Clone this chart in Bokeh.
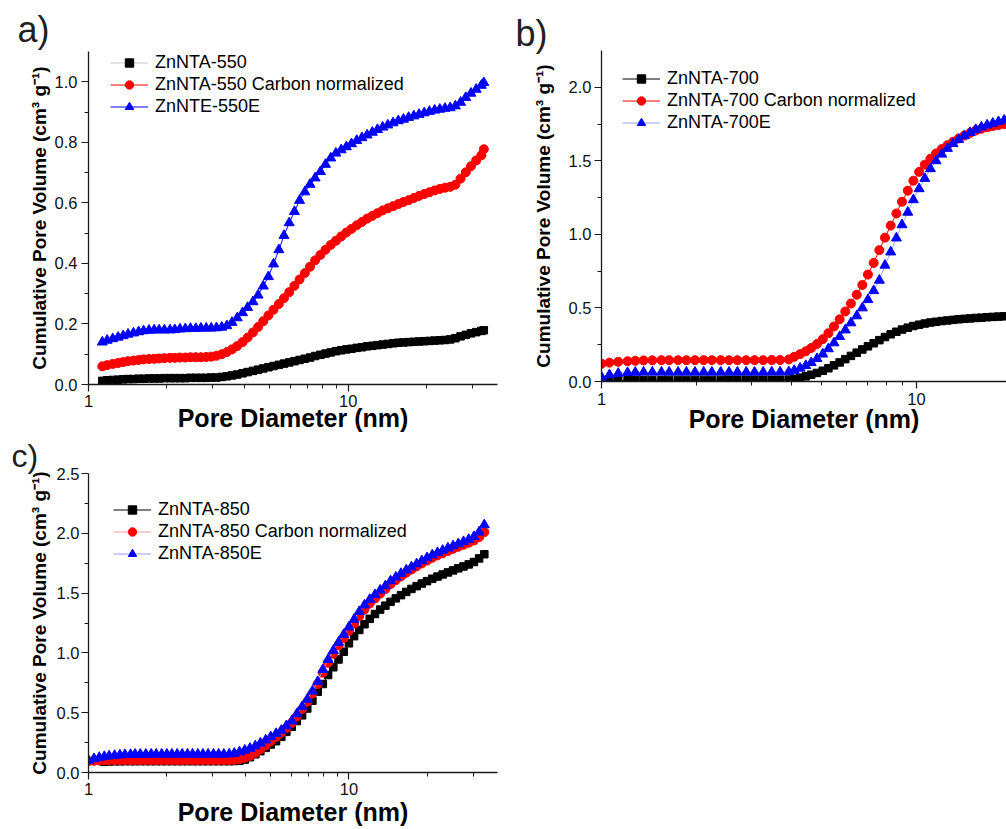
from bokeh.plotting import figure
from bokeh.layouts import row, column
from bokeh.models import Range1d, FixedTicker, NumeralTickFormatter, Legend, LegendItem, Title
from bokeh.embed import file_html
from bokeh.resources import INLINE

FONT = "Liberation Sans"

# ---------------- data: panel a) ----------------
X_A = [1.13, 1.18, 1.24, 1.30, 1.36, 1.42, 1.49, 1.56, 1.63, 1.71,
       1.79, 1.87, 1.96, 2.06, 2.15, 2.25, 2.36, 2.47, 2.59, 2.71,
       2.84, 2.97, 3.11, 3.26, 3.41, 3.57, 3.74, 3.92, 4.10, 4.30,
       4.50, 4.71, 4.93, 5.16, 5.41, 5.66, 5.93, 6.21, 6.50, 6.81,
       7.13, 7.46, 7.82, 8.18, 8.57, 8.97, 9.40, 9.84, 10.30, 10.79,
       11.30, 11.83, 12.39, 12.97, 13.58, 14.22, 14.89, 15.60, 16.33, 17.10,
       17.91, 18.75, 19.63, 20.56, 21.53, 22.54, 23.60, 24.72, 25.88, 27.10,
       28.38, 29.72, 31.12, 32.58, 33.30]
BLACK_A = [0.012, 0.014, 0.015, 0.016, 0.017, 0.018, 0.018, 0.019, 0.019, 0.020,
           0.020, 0.020, 0.021, 0.021, 0.021, 0.021, 0.021, 0.022, 0.022, 0.022,
           0.022, 0.023, 0.023, 0.025, 0.027, 0.030, 0.033, 0.037, 0.041, 0.045,
           0.049, 0.053, 0.057, 0.061, 0.065, 0.069, 0.073, 0.077, 0.081, 0.085,
           0.089, 0.094, 0.098, 0.102, 0.106, 0.110, 0.113, 0.116, 0.118, 0.121,
           0.123, 0.126, 0.128, 0.130, 0.132, 0.134, 0.136, 0.138, 0.139, 0.140,
           0.141, 0.142, 0.143, 0.144, 0.145, 0.146, 0.147, 0.149, 0.153, 0.159,
           0.164, 0.169, 0.173, 0.177, 0.179]
RED_A = [0.060, 0.064, 0.068, 0.071, 0.074, 0.077, 0.079, 0.081, 0.083, 0.084,
         0.085, 0.086, 0.087, 0.088, 0.088, 0.089, 0.089, 0.090, 0.090, 0.090,
         0.091, 0.092, 0.095, 0.100, 0.107, 0.116, 0.127, 0.140, 0.155, 0.172,
         0.190, 0.209, 0.228, 0.247, 0.266, 0.285, 0.305, 0.326, 0.347, 0.368,
         0.389, 0.410, 0.428, 0.445, 0.461, 0.475, 0.489, 0.502, 0.514, 0.526,
         0.537, 0.548, 0.557, 0.566, 0.575, 0.582, 0.589, 0.596, 0.603, 0.609,
         0.616, 0.623, 0.629, 0.635, 0.641, 0.646, 0.650, 0.653, 0.660, 0.680,
         0.701, 0.721, 0.740, 0.757, 0.777]
BLUE_A = [0.140, 0.146, 0.151, 0.156, 0.161, 0.166, 0.170, 0.174, 0.177, 0.179,
          0.180, 0.180, 0.180, 0.180, 0.181, 0.183, 0.184, 0.185, 0.185, 0.186,
          0.186, 0.186, 0.187, 0.189, 0.194, 0.205, 0.220, 0.237, 0.254, 0.273,
          0.295, 0.325, 0.356, 0.398, 0.445, 0.492, 0.534, 0.571, 0.608, 0.636,
          0.661, 0.682, 0.703, 0.727, 0.748, 0.764, 0.775, 0.785, 0.795, 0.806,
          0.815, 0.824, 0.833, 0.842, 0.850, 0.857, 0.864, 0.871, 0.876, 0.882,
          0.887, 0.892, 0.897, 0.902, 0.906, 0.909, 0.912, 0.914, 0.920, 0.932,
          0.948, 0.962, 0.975, 0.988, 0.997]
LABELS_A = ["ZnNTA-550", "ZnNTA-550 Carbon normalized", "ZnNTE-550E"]

# ---------------- data: panel b) ----------------
X_B = [1.00, 1.06, 1.13, 1.21, 1.28, 1.36, 1.45, 1.55, 1.64, 1.75,
       1.86, 1.98, 2.11, 2.24, 2.39, 2.54, 2.70, 2.88, 3.06, 3.26,
       3.47, 3.69, 3.93, 4.09, 4.27, 4.45, 4.63, 4.83, 5.04, 5.25,
       5.47, 5.70, 5.94, 6.19, 6.46, 6.73, 7.01, 7.31, 7.62, 7.94,
       8.28, 8.63, 8.99, 9.38, 9.77, 10.19, 10.62, 11.07, 11.53, 12.02,
       12.53, 13.06, 13.61, 14.19, 14.79, 15.42, 16.07, 16.75, 17.46, 18.20,
       18.97, 19.77]
BLACK_B = [0.000, 0.004, 0.006, 0.008, 0.009, 0.010, 0.010, 0.010, 0.011, 0.011,
           0.011, 0.011, 0.011, 0.011, 0.011, 0.012, 0.012, 0.012, 0.012, 0.012,
           0.012, 0.012, 0.013, 0.018, 0.026, 0.035, 0.046, 0.058, 0.073, 0.090,
           0.110, 0.130, 0.152, 0.174, 0.196, 0.218, 0.239, 0.260, 0.281, 0.302,
           0.321, 0.338, 0.353, 0.366, 0.377, 0.386, 0.394, 0.401, 0.406, 0.411,
           0.415, 0.419, 0.423, 0.426, 0.429, 0.432, 0.434, 0.437, 0.439, 0.441,
           0.443, 0.445]
RED_B = [0.120, 0.128, 0.134, 0.138, 0.141, 0.143, 0.144, 0.145, 0.145, 0.145,
         0.145, 0.145, 0.145, 0.145, 0.145, 0.145, 0.145, 0.145, 0.145, 0.145,
         0.146, 0.146, 0.150, 0.168, 0.186, 0.205, 0.228, 0.255, 0.288, 0.328,
         0.374, 0.423, 0.476, 0.530, 0.590, 0.656, 0.727, 0.806, 0.893, 0.978,
         1.060, 1.142, 1.222, 1.297, 1.365, 1.425, 1.474, 1.515, 1.550, 1.580,
         1.606, 1.630, 1.652, 1.672, 1.690, 1.706, 1.718, 1.728, 1.736, 1.743,
         1.750, 1.756]
BLUE_B = [0.030, 0.045, 0.055, 0.060, 0.062, 0.063, 0.063, 0.063, 0.063, 0.063,
          0.063, 0.063, 0.063, 0.063, 0.063, 0.063, 0.063, 0.063, 0.063, 0.063,
          0.064, 0.064, 0.066, 0.075, 0.090, 0.108, 0.128, 0.155, 0.186, 0.222,
          0.262, 0.305, 0.350, 0.398, 0.446, 0.500, 0.556, 0.617, 0.688, 0.790,
          0.880, 0.975, 1.065, 1.150, 1.235, 1.310, 1.380, 1.446, 1.500, 1.545,
          1.584, 1.617, 1.645, 1.670, 1.692, 1.712, 1.729, 1.743, 1.755, 1.766,
          1.776, 1.785]
LABELS_B = ["ZnNTA-700", "ZnNTA-700 Carbon normalized", "ZnNTA-700E"]

# ---------------- data: panel c) ----------------
X_C = [1.00, 1.05, 1.10, 1.15, 1.20, 1.26, 1.32, 1.38, 1.45, 1.51,
       1.58, 1.66, 1.74, 1.82, 1.91, 2.00, 2.09, 2.19, 2.29, 2.40,
       2.51, 2.63, 2.75, 2.88, 3.02, 3.16, 3.31, 3.47, 3.63, 3.80,
       3.98, 4.17, 4.37, 4.57, 4.79, 5.01, 5.25, 5.50, 5.75, 6.03,
       6.31, 6.61, 6.92, 7.24, 7.59, 7.94, 8.32, 8.71, 9.12, 9.55,
       10.00, 10.47, 10.96, 11.48, 12.02, 12.59, 13.18, 13.80, 14.45, 15.14,
       15.85, 16.60, 17.38, 18.20, 19.05, 19.95, 20.89, 21.88, 22.91, 23.99,
       25.12, 26.30, 27.54, 28.84, 30.20, 31.62, 33.11]
BLACK_C = [0.090, 0.092, 0.094, 0.094, 0.095, 0.095, 0.095,
           0.095, 0.095, 0.095, 0.095, 0.095, 0.095, 0.095, 0.095, 0.095, 0.095,
           0.095, 0.095, 0.095, 0.095, 0.095, 0.095, 0.095, 0.095, 0.096, 0.098,
           0.108, 0.128, 0.152, 0.178, 0.206, 0.234, 0.262, 0.298, 0.340, 0.382,
           0.430, 0.478, 0.535, 0.600, 0.675, 0.740, 0.815, 0.880, 0.945, 1.010,
           1.080, 1.140, 1.192, 1.240, 1.285, 1.325, 1.362, 1.395, 1.427, 1.456,
           1.483, 1.510, 1.535, 1.558, 1.580, 1.600, 1.620, 1.638, 1.656, 1.673,
           1.690, 1.707, 1.723, 1.740, 1.760, 1.790, 1.825]
RED_C = [0.095, 0.098, 0.100, 0.102, 0.102, 0.103, 0.103, 0.103, 0.103, 0.103,
         0.103, 0.103, 0.103, 0.103, 0.103, 0.103, 0.103, 0.103, 0.103, 0.103,
         0.103, 0.103, 0.103, 0.103, 0.103, 0.103, 0.104, 0.104, 0.106, 0.112,
         0.122, 0.140, 0.165, 0.195, 0.228, 0.262, 0.296, 0.332, 0.372, 0.414,
         0.470, 0.530, 0.592, 0.660, 0.740, 0.835, 0.918, 0.993, 1.062, 1.125,
         1.185, 1.245, 1.308, 1.363, 1.412, 1.455, 1.495, 1.533, 1.575, 1.608,
         1.640, 1.670, 1.697, 1.723, 1.748, 1.772, 1.795, 1.815, 1.834, 1.852,
         1.870, 1.887, 1.904, 1.921, 1.940, 1.968, 2.010]
BLUE_C = [0.100, 0.115, 0.125, 0.133, 0.138, 0.142, 0.146, 0.149, 0.150, 0.152,
          0.152, 0.152, 0.153, 0.153, 0.153, 0.153, 0.153, 0.153, 0.153, 0.153,
          0.153, 0.153, 0.153, 0.153, 0.153, 0.153, 0.153, 0.154, 0.160, 0.172,
          0.186, 0.202, 0.222, 0.245, 0.271, 0.298, 0.325, 0.352, 0.390, 0.430,
          0.490, 0.550, 0.612, 0.680, 0.760, 0.860, 0.945, 1.020, 1.088, 1.153,
          1.216, 1.280, 1.345, 1.400, 1.447, 1.486, 1.524, 1.560, 1.602, 1.633,
          1.664, 1.692, 1.718, 1.744, 1.770, 1.795, 1.818, 1.838, 1.857, 1.876,
          1.894, 1.912, 1.930, 1.948, 1.972, 2.010, 2.070]
LABELS_C = ["ZnNTA-850", "ZnNTA-850 Carbon normalized", "ZnNTA-850E"]

X_MINOR_FULL = [2, 3, 4, 5, 6, 7, 8, 9, 20, 30]
X_MINOR_B = [2, 3, 4, 5, 6, 7, 8, 9]
Y_TICKS_A = [0.0, 0.2, 0.4, 0.6, 0.8, 1.0]
Y_MINOR_A = [0.1, 0.3, 0.5, 0.7, 0.9]
Y_TICKS_B = [0.0, 0.5, 1.0, 1.5, 2.0]
Y_MINOR_B = [0.25, 0.75, 1.25, 1.75]
Y_TICKS_C = [0.0, 0.5, 1.0, 1.5, 2.0, 2.5]
Y_MINOR_C = [0.25, 0.75, 1.25, 1.75, 2.25]

AXIS_COLOR = "#1a1a1a"


def panel(width, height, left, right, top, bottom, xmax, ymax, yt, ym, xm,
          s1x, s2x, s1y, s2y, letter, l_size, l_offset, l_standoff):
    title = Title(text=letter, align="left", offset=l_offset, standoff=l_standoff,
                  text_font=FONT, text_font_size=l_size, text_font_style="normal",
                  text_color="#231f20")
    p = figure(width=width, height=height, x_axis_type="log",
               x_range=Range1d(1, xmax), y_range=Range1d(0, ymax),
               output_backend="svg", toolbar_location=None, title=title,
               min_border_left=left, min_border_right=right,
               min_border_top=top, min_border_bottom=bottom)
    p.outline_line_color = None
    p.xgrid.visible = False
    p.ygrid.visible = False
    p.background_fill_color = "white"
    p.border_fill_color = "white"
    xa = p.xaxis[0]
    ya = p.yaxis[0]
    xa.ticker = FixedTicker(ticks=[1, 10], minor_ticks=xm)
    xa.formatter = NumeralTickFormatter(format="0")
    ya.ticker = FixedTicker(ticks=yt, minor_ticks=ym)
    ya.formatter = NumeralTickFormatter(format="0.0")
    for ax in (xa, ya):
        ax.axis_line_color = AXIS_COLOR
        ax.axis_line_width = 1.3
        ax.major_tick_line_color = AXIS_COLOR
        ax.major_tick_line_width = 1.2
        ax.minor_tick_line_color = AXIS_COLOR
        ax.minor_tick_line_width = 1
        ax.major_tick_in = 0
        ax.major_tick_out = 7
        ax.minor_tick_in = 0
        ax.minor_tick_out = 4
        ax.major_label_text_font = FONT
        ax.major_label_text_font_size = "16.5px"
        ax.major_label_text_color = "#111111"
        ax.axis_label_text_font = FONT
        ax.axis_label_text_font_style = "bold"
        ax.axis_label_text_color = "black"
    xa.axis_label = "Pore Diameter (nm)"
    xa.axis_label_text_font_size = "25px"
    ya.axis_label = "Cumulative Pore Volume (cm³ g⁻¹)"
    ya.axis_label_text_font_size = "19px"
    xa.major_label_standoff = s1x
    xa.axis_label_standoff = s2x
    ya.major_label_standoff = s1y
    ya.axis_label_standoff = s2y
    return p


def series(p, x, y, color, linecolor, marker, size):
    l = p.line(x, y, line_color=linecolor, line_width=1)
    s = p.scatter(x, y, marker=marker, size=size, fill_color=color, line_color=color)
    return [l, s]


def legend(p, labels, rends, loc):
    items = [LegendItem(label=lab, renderers=r) for lab, r in zip(labels, rends)]
    leg = Legend(items=items, location=loc, glyph_width=38, glyph_height=21,
                 label_height=21, label_standoff=7, spacing=1, padding=0, margin=0,
                 border_line_color=None, background_fill_alpha=0,
                 label_text_font=FONT, label_text_font_size="18px",
                 label_text_color="black")
    p.add_layout(leg)


# panel a
pa = panel(500, 435, 88, 2, 51, 51, 37.6, 1.1, Y_TICKS_A, Y_MINOR_A, X_MINOR_FULL,
           3, -6, 4, 2, "a)", "36px", -71, 4)
ra = [series(pa, X_A, BLACK_A, "black", "#c8c8c8", "square", 7.5),
      series(pa, X_A, RED_A, "red", "red", "circle", 9),
      series(pa, X_A, BLUE_A, "blue", "blue", "triangle", 10)]
legend(pa, LABELS_A, ra, (22, 267))

# panel b
pb = panel(506, 437, 101, 0, 50, 56, 19.3, 2.25, Y_TICKS_B, Y_MINOR_B, X_MINOR_B,
           4, -3, 3, 12, "b)", "36px", -86, -6)
rb = [series(pb, X_B, BLACK_B, "black", "black", "square", 7.5),
      series(pb, X_B, RED_B, "red", "red", "circle", 9),
      series(pb, X_B, BLUE_B, "blue", "#a0a0ff", "triangle", 10)]
legend(pb, LABELS_B, rb, (21, 248))

# panel c
pc = panel(500, 394, 87, 3, 36, 57, 37.2, 2.5, Y_TICKS_C, Y_MINOR_C, X_MINOR_FULL,
           3, 0, 2, 4, "c)", "32px", -77, 0)
rc = [series(pc, X_C[3:], BLACK_C, "black", "black", "square", 7.5),
      series(pc, X_C, RED_C, "red", "#ff9a9a", "circle", 9),
      series(pc, X_C, BLUE_C, "blue", "#9a9aff", "triangle", 10)]
legend(pc, LABELS_C, rc, (25, 208))

layout = row(column(pa, pc), pb)
open("out.html", "w").write(file_html(layout, INLINE))
